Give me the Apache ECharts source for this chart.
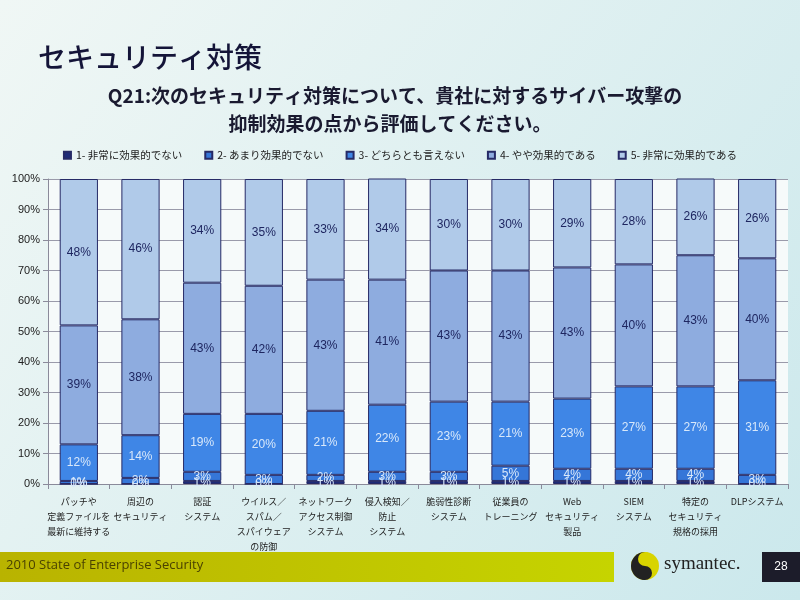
<!DOCTYPE html>
<html>
<head>
<meta charset="utf-8">
<script src="https://cdn.jsdelivr.net/npm/echarts@6/dist/echarts.min.js"></script>
<style>html,body{margin:0;padding:0;}#c{width:800px;height:600px;}</style>
</head>
<body>
<div id="c"></div>
<script>
var categories = [
  'パッチや\n定義ファイルを\n最新に維持する',
  '周辺の\nセキュリティ',
  '認証\nシステム',
  'ウイルス／\nスパム／\nスパイウェア\nの防御',
  'ネットワーク\nアクセス制御\nシステム',
  '侵入検知／\n防止\nシステム',
  '脆弱性診断\nシステム',
  '従業員の\nトレーニング',
  'Web\nセキュリティ\n製品',
  'SIEM\nシステム',
  '特定の\nセキュリティ\n規格の採用',
  'DLPシステム'
];
var seriesNames = ['1- 非常に効果的でない', '2- あまり効果的でない', '3- どちらとも言えない', '4- やや効果的である', '5- 非常に効果的である'];
var s1 = [0, 0, 1, 0, 1, 1, 1, 1, 1, 1, 1, 0];
var s2 = [1, 2, 3, 3, 2, 3, 3, 5, 4, 4, 4, 3];
var s3 = [12, 14, 19, 20, 21, 22, 23, 21, 23, 27, 27, 31];
var s4 = [39, 38, 43, 42, 43, 41, 43, 43, 43, 40, 43, 40];
var s5 = [48, 46, 34, 35, 33, 34, 30, 30, 29, 28, 26, 26];
var yTicks = [0, 10, 20, 30, 40, 50, 60, 70, 80, 90, 100];

var colors = ['#1e2b78', '#3576d8', '#3f86e6', '#8eacdf', '#b0cae9'];
var labelColors = ['#d8e8fa', '#d8e8fa', '#d8e8fa', '#1e2660', '#1e2660'];
var allData = [s1, s2, s3, s4, s5];
var FONT = '"Noto Sans CJK JP", sans-serif';

var series = allData.map(function (d, i) {
  return {
    name: seriesNames[i],
    type: 'bar',
    stack: 'total',
    barWidth: '62%',
    data: d,
    itemStyle: { color: colors[i], borderColor: '#262a66', borderWidth: 1 },
    label: {
      show: true,
      position: 'inside',
      formatter: '{c}%',
      color: labelColors[i],
      fontSize: 12,
      fontFamily: 'Liberation Sans, Arial, sans-serif'
    }
  };
});

var chart = echarts.init(document.getElementById('c'));
chart.setOption({
  backgroundColor: {
    type: 'linear', x: 0, y: 0, x2: 1, y2: 1,
    colorStops: [{ offset: 0, color: '#f0f7f5' }, { offset: 1, color: '#cbe8ec' }]
  },
  textStyle: { fontFamily: FONT },
  legend: {
    top: 145,
    left: 'center',
    itemWidth: 7,
    itemHeight: 7,
    itemGap: 22,
    icon: 'rect',
    textStyle: { fontSize: 10.5, color: '#222', fontFamily: FONT },
    data: seriesNames
  },
  grid: { left: 48, right: 12, top: 179, bottom: 116, backgroundColor: '#f6fafa', show: true, borderWidth: 0 },
  xAxis: {
    type: 'category',
    data: categories,
    axisLine: { lineStyle: { color: '#8a8a9a' } },
    axisTick: { show: true, lineStyle: { color: '#8a8a9a' } },
    axisLabel: { interval: 0, fontSize: 9, color: '#222', lineHeight: 15, margin: 10, fontFamily: FONT }
  },
  yAxis: {
    type: 'value',
    min: 0,
    max: 100,
    interval: 10,
    axisLine: { show: true, lineStyle: { color: '#8a8a9a' } },
    axisTick: { show: true, lineStyle: { color: '#8a8a9a' } },
    splitLine: { lineStyle: { color: '#9a9aaa' } },
    axisLabel: { fontSize: 11, color: '#222', formatter: function (v) { return yTicks.indexOf(v) >= 0 ? v + '%' : ''; }, fontFamily: 'Liberation Sans, Arial, sans-serif' }
  },
  series: series,
  graphic: [
    { type: 'text', x: 38, y: 43, style: { text: 'セキュリティ対策', fontSize: 28, fontWeight: 500, fill: '#141438', fontFamily: FONT } },
    { type: 'text', x: 395, y: 86, style: { text: 'Q21:次のセキュリティ対策について、貴社に対するサイバー攻撃の', fontSize: 19, fontWeight: 'bold', fill: '#1a1a30', align: 'center', fontFamily: FONT } },
    { type: 'text', x: 390, y: 114, style: { text: '抑制効果の点から評価してください。', fontSize: 19, fontWeight: 'bold', fill: '#1a1a30', align: 'center', fontFamily: FONT } },
    { type: 'rect', shape: { x: 0, y: 552, width: 614, height: 30 },
      style: { fill: { type: 'linear', x: 0, y: 0, x2: 1, y2: 0, colorStops: [{ offset: 0, color: '#b9b300' }, { offset: 1, color: '#c6d400' }] } } },
    { type: 'text', x: 6, y: 559, style: { text: '2010 State of Enterprise Security', fontSize: 13, fill: '#4a4200', fontFamily: 'Open Sans, sans-serif' } },
    { type: 'circle', shape: { cx: 645, cy: 566, r: 14 }, style: { fill: '#d8d400' } },
    { type: 'sector', shape: { cx: 645, cy: 566, r: 14, r0: 0, startAngle: Math.PI / 2, endAngle: Math.PI * 3 / 2, clockwise: true }, style: { fill: '#222222' } },
    { type: 'circle', shape: { cx: 645, cy: 559, r: 7 }, style: { fill: '#d8d400' } },
    { type: 'circle', shape: { cx: 645, cy: 573, r: 7 }, style: { fill: '#222222' } },
    { type: 'text', x: 664, y: 555, style: { text: 'symantec.', fontSize: 19, fill: '#222', fontFamily: 'Liberation Serif, serif' } },
    { type: 'rect', shape: { x: 762, y: 552, width: 38, height: 30 }, style: { fill: '#1c1c2a' } },
    { type: 'text', x: 781, y: 567, style: { text: '28', fontSize: 12, fill: '#ffffff', align: 'center', verticalAlign: 'middle', fontFamily: 'Liberation Sans, sans-serif' } }
  ]
});
</script>
</body>
</html>
